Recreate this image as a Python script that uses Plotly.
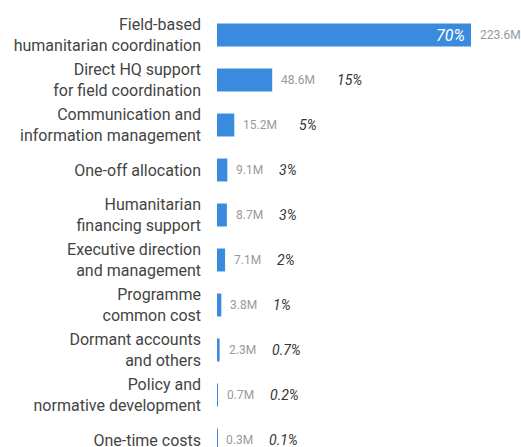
import plotly.graph_objects as go

categories = [
    "Field-based<br>humanitarian coordination",
    "Direct HQ support<br>for field coordination",
    "Communication and<br>information management",
    "One-off allocation",
    "Humanitarian<br>financing support",
    "Executive direction<br>and management",
    "Programme<br>common cost",
    "Dormant accounts<br>and others",
    "Policy and<br>normative development",
    "One-time costs",
]
values = [223.6, 48.6, 15.2, 9.1, 8.7, 7.1, 3.8, 2.3, 0.7, 0.3]
value_labels = ["223.6M", "48.6M", "15.2M", "9.1M", "8.7M", "7.1M", "3.8M", "2.3M", "0.7M", "0.3M"]
pct_labels = ["70%", "15%", "5%", "3%", "3%", "2%", "1%", "0.7%", "0.2%", "0.1%"]

idx = list(range(len(categories)))
FONT = "Roboto, sans-serif"

fig = go.Figure(go.Bar(
    x=values, y=idx, orientation="h",
    marker=dict(color="#3a8bdd", line=dict(width=0)),
    width=0.51,
    hoverinfo="skip",
))

annotations = []
for i, (v, vl, pl) in enumerate(zip(values, value_labels, pct_labels)):
    annotations.append(dict(x=v, y=i, xref="x", yref="y", text=vl, showarrow=False,
                            xanchor="left", xshift=7,
                            font=dict(family=FONT, size=12, color="#999999")))
    if i == 0:
        annotations.append(dict(x=v, y=i, xref="x", yref="y", text=pl, showarrow=False,
                                xanchor="right", xshift=-4,
                                font=dict(family=FONT, size=16, color="white", style="italic")))
    else:
        annotations.append(dict(x=v, y=i, xref="x", yref="y", text=pl, showarrow=False,
                                xanchor="left", xshift=13 * len(vl) - 2,
                                font=dict(family=FONT, size=14, color="#333333", style="italic")))

fig.update_layout(
    width=521, height=447,
    margin=dict(l=217, r=0, t=0, b=0),
    paper_bgcolor="white", plot_bgcolor="white",
    showlegend=False,
    annotations=annotations,
    xaxis=dict(range=[0, 267.6], visible=False, showgrid=False, zeroline=False,
               automargin=False),
    yaxis=dict(range=[9.156, -0.778], tickmode="array", tickvals=idx, ticktext=categories,
               showgrid=False, zeroline=False, showline=False, ticks="",
               ticklabelstandoff=15, automargin=False, ticklabeloverflow="allow",
               tickfont=dict(family=FONT, size=16, color="#444444")),
)

fig.write_html(
    "out.html",
    config={"displayModeBar": False},
    post_script="document.body.style.margin='0';document.body.style.overflow='hidden';",
)
